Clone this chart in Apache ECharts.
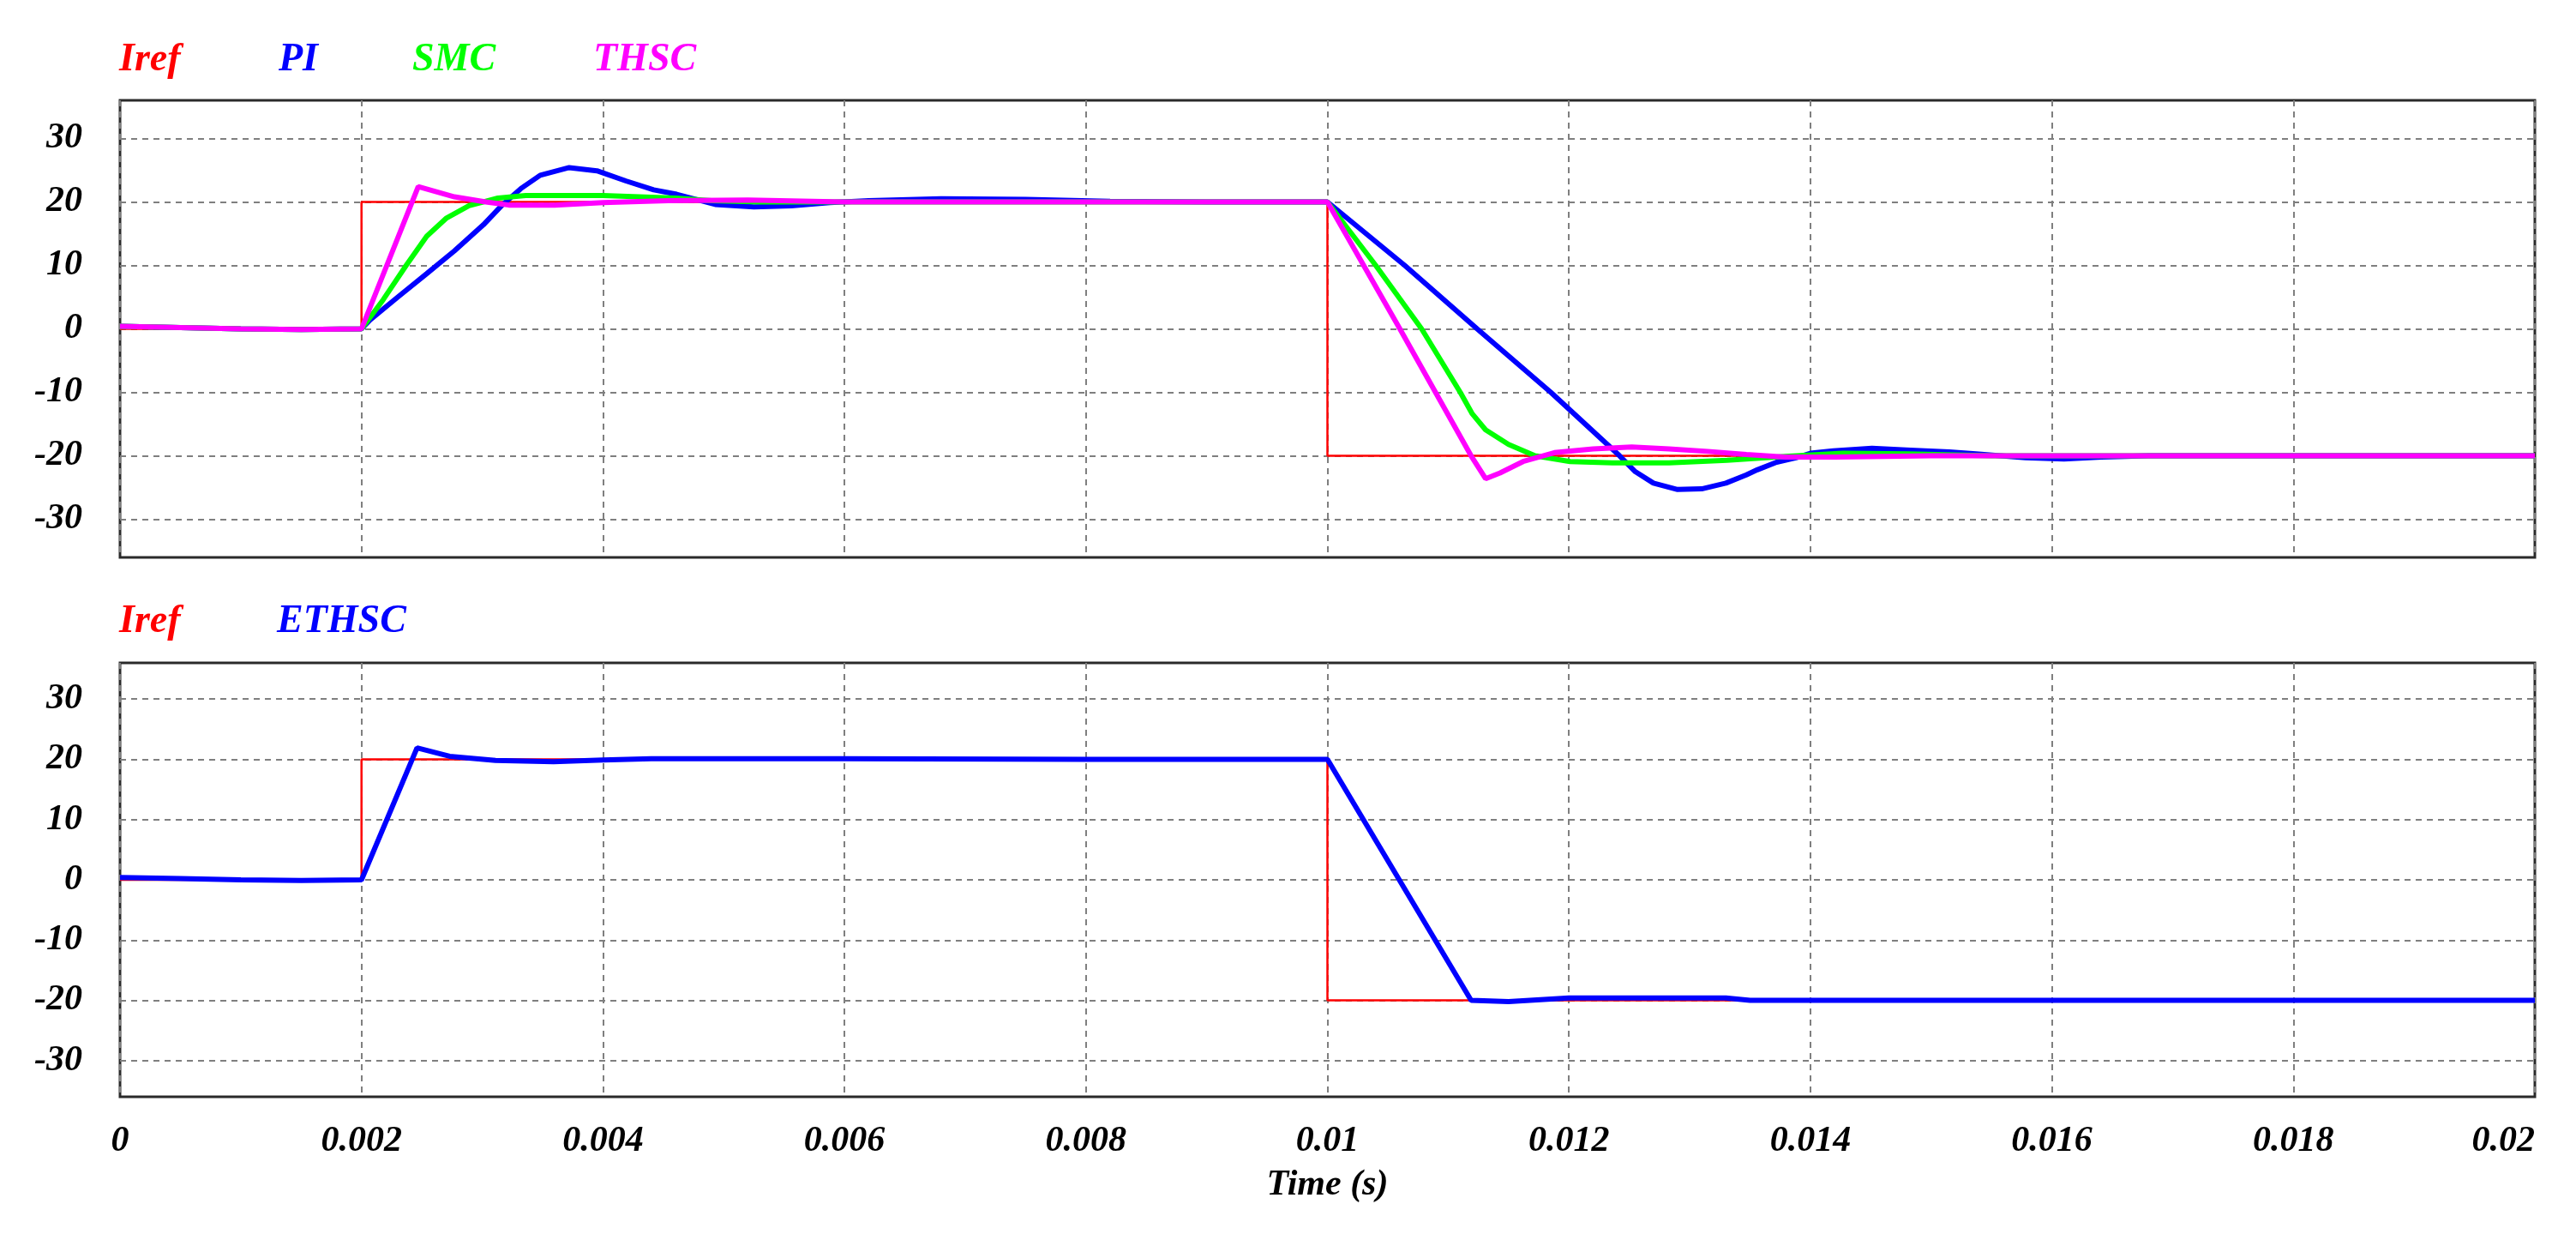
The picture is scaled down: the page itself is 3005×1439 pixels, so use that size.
<!DOCTYPE html>
<html>
<head>
<meta charset="utf-8">
<script src="https://cdn.jsdelivr.net/npm/echarts@6/dist/echarts.min.js"></script>
<style>
html,body{margin:0;padding:0;background:#fff;}
#chart{width:3005px;height:1439px;}
</style>
</head>
<body>
<div id="chart"></div>
<script>
// ---- data ----
const xTicks = [0, 0.002, 0.004, 0.006, 0.008, 0.01, 0.012, 0.014, 0.016, 0.018, 0.02];
const yTicks = [-30, -20, -10, 0, 10, 20, 30];

const tIref = [0, 0.002, 0.002, 0.01, 0.01, 0.02];
const vIref = [0, 0, 20, 20, -20, -20];

const tPI = [0, 0.0005, 0.001, 0.0015, 0.002, 0.00207, 0.0023, 0.00254, 0.00277, 0.00301, 0.00317, 0.00332, 0.00348, 0.00372, 0.00395, 0.00419, 0.00442, 0.00461, 0.00493, 0.00525, 0.00556, 0.00588, 0.0062, 0.0068, 0.0075, 0.0082, 0.009, 0.01,
  0.01064, 0.01124, 0.01185, 0.01242, 0.01255, 0.0127, 0.0129, 0.0131, 0.0133, 0.01347, 0.01356, 0.01372, 0.01388, 0.014, 0.01419, 0.01451, 0.01483, 0.01515, 0.01537, 0.01578, 0.0161, 0.01641, 0.0168, 0.018, 0.02];
const vPI = [0.4, 0.2, 0, -0.1, 0, 1.4, 5, 8.7, 12.3, 16.4, 19.6, 22.1, 24.2, 25.4, 24.9, 23.3, 21.9, 21.2, 19.6, 19.2, 19.4, 19.9, 20.2, 20.5, 20.4, 20.1, 20, 20,
  10, 0, -10, -20, -22.5, -24.3, -25.3, -25.2, -24.3, -23.0, -22.2, -21, -20.3, -19.6, -19.2, -18.8, -19.1, -19.4, -19.7, -20.3, -20.5, -20.2, -20, -20, -20];

const tSMC = [0, 0.0005, 0.001, 0.0015, 0.002, 0.00218, 0.00237, 0.00254, 0.0027, 0.00289, 0.00313, 0.00336, 0.004, 0.0046, 0.0049, 0.0053, 0.0058, 0.007, 0.009, 0.01,
  0.0104, 0.01078, 0.0111, 0.0112, 0.01131, 0.0115, 0.01172, 0.01201, 0.01236, 0.01283, 0.01331, 0.01379, 0.01427, 0.0148, 0.0155, 0.02];
const vSMC = [0.4, 0.2, 0, -0.1, 0, 4.6, 10, 14.6, 17.4, 19.4, 20.6, 21, 21.0, 20.6, 20.2, 20.0, 20, 20, 20, 20,
  10, 0, -10, -13.4, -15.9, -18.2, -20, -20.9, -21.1, -21.1, -20.7, -20.1, -19.6, -19.7, -20, -20];

const tTHSC = [0, 0.0005, 0.001, 0.0015, 0.002, 0.00247, 0.00262, 0.00277, 0.00303, 0.00322, 0.0036, 0.004, 0.00454, 0.0052, 0.006, 0.008, 0.01,
  0.0106, 0.01119, 0.01131, 0.01143, 0.01162, 0.01188, 0.0122, 0.01252, 0.01283, 0.01315, 0.01347, 0.01379, 0.0142, 0.015, 0.02];
const vTHSC = [0.4, 0.2, 0, -0.1, 0, 22.4, 21.6, 20.8, 20, 19.5, 19.5, 19.9, 20.2, 20.3, 20, 20, 20,
  0, -20, -23.6, -22.7, -20.9, -19.5, -18.9, -18.6, -18.9, -19.3, -19.8, -20.2, -20.2, -20, -20];

const tETHSC = [0, 0.0005, 0.001, 0.0015, 0.002, 0.00246, 0.00273, 0.00311, 0.00359, 0.004, 0.0044, 0.006, 0.008, 0.01, 0.01119, 0.0115, 0.012, 0.0133, 0.0135, 0.02];
const vETHSC = [0.4, 0.2, 0, -0.1, 0, 21.9, 20.5, 19.8, 19.6, 19.9, 20.1, 20.1, 20, 20, -20, -20.2, -19.6, -19.6, -20, -20];

// ---- build ----
const zip = (t, v) => t.map((x, i) => [x, v[i]]);
const FONT = 'Liberation Serif';
const C_RED = '#ff0000', C_BLUE = '#0000ff', C_GREEN = '#00ff00', C_MAG = '#ff00ff';

const gridStyle = { show: true, lineStyle: { color: '#7f7f7f', width: 2, type: [7, 6] } };
const labelFont = { fontFamily: FONT, fontStyle: 'italic', fontWeight: 'bold', fontSize: 42, color: '#000' };
const fmtX = v => String(parseFloat(Number(v).toFixed(4)));

function xAxis(gridIndex, showLabels) {
  return {
    type: 'value', gridIndex, min: 0, max: 0.02, interval: 0.002,
    axisLine: { show: false, onZero: false }, axisTick: { show: false },
    splitLine: gridStyle,
    axisLabel: Object.assign({ show: showLabels, margin: 31, formatter: fmtX, alignMaxLabel: 'right' }, labelFont),
    name: showLabels ? 'Time (s)' : '', nameLocation: 'middle', nameGap: 82,
    nameTextStyle: labelFont
  };
}
function yAxis(gridIndex) {
  return {
    type: 'value', gridIndex, min: -36, max: 36,
    axisLine: { show: false }, axisTick: { show: false, customValues: yTicks },
    splitLine: gridStyle,
    axisLabel: Object.assign({ margin: 44, customValues: yTicks }, labelFont)
  };
}
function legend(name, color, left, top) {
  return {
    left, top, itemWidth: 0, itemHeight: 0, selectedMode: false, padding: 0,
    data: [{ name, textStyle: { color } }],
    textStyle: { fontFamily: FONT, fontStyle: 'italic', fontWeight: 'bold', fontSize: 46, color }
  };
}
function line(name, t, v, color, width, xi, z) {
  return {
    name, type: 'line', xAxisIndex: xi, yAxisIndex: xi, data: zip(t, v),
    showSymbol: false, symbol: 'none', z,
    lineStyle: { color, width }, itemStyle: { color }
  };
}

const chart = echarts.init(document.getElementById('chart'), null, { renderer: 'canvas' });
chart.setOption({
  animation: false,
  backgroundColor: '#fff',
  grid: [
    { left: 140, right: 48, top: 117, height: 533, show: true, borderColor: '#2a2a2a', borderWidth: 3, backgroundColor: 'transparent' },
    { left: 140, right: 48, top: 773, height: 506, show: true, borderColor: '#2a2a2a', borderWidth: 3, backgroundColor: 'transparent' }
  ],
  xAxis: [xAxis(0, false), xAxis(1, true)],
  yAxis: [yAxis(0), yAxis(1)],
  legend: [
    legend('Iref', C_RED, 133, 47),
    legend('PI', C_BLUE, 319, 47),
    legend('SMC', C_GREEN, 475, 47),
    legend('THSC', C_MAG, 686, 47),
    legend('Iref', C_RED, 133, 702),
    legend('ETHSC', C_BLUE, 317, 702)
  ],
  series: [
    line('Iref', tIref, vIref, C_RED, 2.5, 0, 2),
    line('PI', tPI, vPI, C_BLUE, 6, 0, 3),
    line('SMC', tSMC, vSMC, C_GREEN, 6, 0, 4),
    line('THSC', tTHSC, vTHSC, C_MAG, 6, 0, 5),
    line('Iref', tIref, vIref, C_RED, 2.5, 1, 2),
    line('ETHSC', tETHSC, vETHSC, C_BLUE, 6, 1, 3)
  ]
});
</script>
</body>
</html>
